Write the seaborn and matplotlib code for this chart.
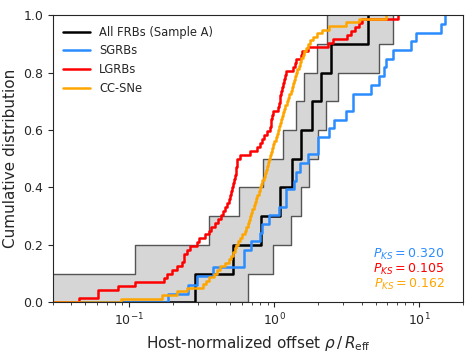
import numpy as np
import matplotlib
matplotlib.use("Agg")
import matplotlib.pyplot as plt
import seaborn as sns

# host-normalized offsets (rho / R_eff)
frb_offsets = [0.284, 0.524, 0.806, 1.10, 1.335, 1.53, 1.83, 2.085, 2.47, 4.40]

# bounds of the FRB uncertainty band
frb_upper = [0.02, 0.110, 0.353, 0.572, 0.836, 1.152, 1.406, 1.604, 1.98, 2.32]
frb_lower = [0.656, 0.984, 1.30, 1.52, 1.74, 2.00, 2.28, 2.77, 5.29, 6.53]

sgrb_offsets = [0.185, 0.253, 0.296, 0.381, 0.616, 0.616, 0.689, 0.793, 0.818,
                0.914, 1.087, 1.213, 1.213, 1.377, 1.422, 1.497, 1.710, 1.996,
                1.996, 2.40, 2.60, 3.13, 3.48, 3.48, 4.64, 5.29, 5.72, 5.92,
                6.62, 8.71, 9.44, 14.0, 15.1]

lgrb_offsets = [0.0453, 0.0607, 0.0607, 0.0844, 0.110, 0.174, 0.183, 0.198,
                0.214, 0.232, 0.238, 0.241, 0.251, 0.264, 0.294, 0.303, 0.333,
                0.355, 0.366, 0.390, 0.409, 0.429, 0.442, 0.457, 0.471, 0.486,
                0.498, 0.506, 0.514, 0.522, 0.531, 0.537, 0.543, 0.548, 0.552,
                0.556, 0.578, 0.677, 0.757, 0.797, 0.819, 0.845, 0.886, 0.933,
                0.944, 0.958, 0.966, 0.984, 1.065, 1.082, 1.092, 1.101, 1.122,
                1.136, 1.153, 1.164, 1.186, 1.214, 1.356, 1.384, 1.422, 1.538,
                1.563, 1.709, 2.342, 2.547, 3.177, 3.383, 3.605, 3.857, 4.025,
                7.07]

ccsne_offsets = [0.0875, 0.169, 0.213, 0.249, 0.321, 0.338, 0.356, 0.384, 0.403,
                 0.426, 0.456, 0.486, 0.503, 0.521, 0.535, 0.548, 0.561, 0.581,
                 0.603, 0.625, 0.641, 0.655, 0.668, 0.681, 0.695, 0.708, 0.722,
                 0.736, 0.751, 0.767, 0.783, 0.798, 0.815, 0.830, 0.847, 0.863,
                 0.877, 0.891, 0.907, 0.922, 0.937, 0.952, 0.969, 0.986, 1.004,
                 1.022, 1.039, 1.057, 1.076, 1.092, 1.108, 1.126, 1.148, 1.170,
                 1.193, 1.216, 1.239, 1.270, 1.305, 1.327, 1.346, 1.365, 1.385,
                 1.414, 1.444, 1.475, 1.506, 1.538, 1.574, 1.612, 1.650, 1.707,
                 1.777, 1.849, 1.980, 2.136, 2.378, 3.126, 3.835, 5.9]

labels = ["All FRBs (Sample A)", "SGRBs", "LGRBs", "CC-SNe"]
colors = ["black", "#2b8cff", "red", "orange"]
pks_values = [0.320, 0.105, 0.162]

sns.set_style("ticks")

fig = plt.figure(figsize=(4.74, 3.56), dpi=100)
ax = fig.add_axes([0.112, 0.151, 0.865, 0.806])

# gray band between the two bound ECDFs
up = np.sort(frb_upper)
lo = np.sort(frb_lower)
grid = np.unique(np.concatenate([[1e-3], up, lo, [100.0]]))
cdf_up = np.searchsorted(up, grid, side="right") / len(up)
cdf_lo = np.searchsorted(lo, grid, side="right") / len(lo)
ax.fill_between(grid, cdf_lo, cdf_up, step="post", color="#d6d6d6", lw=0)
sns.ecdfplot(x=frb_upper, ax=ax, color="#555555", lw=1)
sns.ecdfplot(x=frb_lower, ax=ax, color="#555555", lw=1)

handles = []
for data, lab, col in zip([frb_offsets, sgrb_offsets, lgrb_offsets, ccsne_offsets],
                          labels, colors):
    sns.ecdfplot(x=data, ax=ax, color=col, lw=1.8, label=lab)
    handles.append(ax.lines[-1])

ax.set_xscale("log")
ax.set_xlim(0.03, 20)
ax.set_ylim(0, 1)
ax.set_xlabel(r"Host-normalized offset $\rho\,/\,R_{\rm eff}$", fontsize=11)
ax.set_ylabel("Cumulative distribution", fontsize=11)
ax.tick_params(labelsize=9)

ax.legend(handles=handles, labels=labels, loc="upper left", frameon=False,
          fontsize=8.3, handlelength=2.3)

for i, (p, col) in enumerate(zip(pks_values, colors[1:])):
    ax.text(0.955, 0.165 - i * 0.051, rf"$P_{{KS}} = {p:.3f}$", color=col,
            fontsize=9, ha="right", va="center", transform=ax.transAxes)

fig.savefig("out.png", dpi=100)
